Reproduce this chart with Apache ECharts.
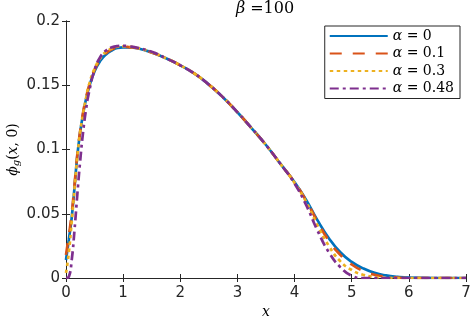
<!DOCTYPE html>
<html><head><meta charset="utf-8">
<script src="https://cdn.jsdelivr.net/npm/echarts@6/dist/echarts.min.js"></script>
<style>html,body{margin:0;padding:0;background:#fff}#c{width:471px;height:318px}</style>
</head><body><div id="c"></div>
<script>
const xs = [0,0.05,0.1,0.15,0.2,0.25,0.3,0.35,0.4,0.5,0.6,0.7,0.8,0.9,1.0,1.1,1.25,1.5,1.75,2.0,2.25,2.5,2.75,3.0,3.25,3.5,3.75,4.0,4.2,4.4,4.6,4.8,5.0,5.2,5.4,5.6,5.8,6.0,6.5,7.0];
const alpha0   = [0.014,0.03,0.047,0.071,0.096,0.114,0.128,0.139,0.148,0.161,0.169,0.174,0.177,0.179,0.1795,0.1795,0.1788,0.1755,0.171,0.1655,0.159,0.1505,0.1405,0.129,0.1165,0.1035,0.089,0.0745,0.061,0.045,0.031,0.020,0.0125,0.0075,0.004,0.002,0.0009,0.0003,0,0];
const alpha01  = [0.018,0.033,0.05,0.073,0.097,0.115,0.129,0.140,0.149,0.162,0.170,0.175,0.178,0.1795,0.18,0.1797,0.1788,0.1755,0.171,0.1655,0.159,0.1505,0.1405,0.129,0.1165,0.1035,0.089,0.0745,0.0605,0.044,0.029,0.018,0.0105,0.0055,0.0025,0.001,0.0003,0,0,0];
const alpha03  = [0.004,0.02,0.044,0.07,0.095,0.114,0.128,0.140,0.150,0.163,0.171,0.176,0.1785,0.18,0.1802,0.18,0.179,0.1757,0.171,0.1655,0.159,0.1505,0.1405,0.129,0.1165,0.1035,0.089,0.074,0.0595,0.041,0.025,0.013,0.0062,0.0025,0.0008,0.0002,0,0,0,0];
const alpha048 = [0,0.001,0.014,0.038,0.066,0.092,0.114,0.131,0.144,0.162,0.172,0.177,0.1795,0.1805,0.1807,0.1803,0.1792,0.176,0.171,0.1655,0.159,0.1505,0.1405,0.129,0.1165,0.1035,0.089,0.0735,0.057,0.037,0.020,0.0085,0.0018,0,0,0,0,0,0,0];
const seriesNames = ['α = 0','α = 0.1','α = 0.3','α = 0.48'];
const xTicks = [0,1,2,3,4,5,6,7];
const yTickLabels = ['0','0.05','0.1','0.15','0.2'];

const colors = ['#0072BD','#D95319','#EDB120','#7E2F8E'];
const dashes = ['solid',[12,11],[3.5,3.5],[9,4,3,4]];
const datas = [alpha0,alpha01,alpha03,alpha048];

const chart = echarts.init(document.getElementById('c'));
const font = 'DejaVu Sans';
const axisCommon = {
  axisLine:{show:true,lineStyle:{color:'#262626',width:1}},
  axisTick:{show:true,inside:true,length:4,lineStyle:{color:'#262626'}},
  splitLine:{show:false}
};
chart.setOption({
  animation:false,
  title:{text:'{i|β} {n|=100}',left:265,top:0,padding:0,textAlign:'center',
    textStyle:{fontWeight:'normal',rich:{i:{fontFamily:'DejaVu Serif',fontStyle:'italic',fontWeight:'normal',fontSize:16,color:'#000'},
      n:{fontFamily:'DejaVu Serif',fontWeight:'normal',fontSize:16,color:'#000'}}}},
  grid:{left:66,right:5,top:21,bottom:40,containLabel:false,outerBoundsMode:'none'},
  legend:{
    right:11,top:26,orient:'vertical',
    itemWidth:58,itemHeight:14,itemGap:3.5,
    padding:[3,6,3,4],
    itemStyle:{opacity:0},
    borderColor:'#262626',borderWidth:1,backgroundColor:'#fff',
    formatter:n=>'{i|α}{n|'+n.slice(1)+'}',
    textStyle:{fontFamily:'DejaVu Serif',fontSize:14,color:'#000',
      rich:{i:{fontFamily:'DejaVu Serif',fontStyle:'italic',fontSize:14,color:'#000'},
        n:{fontFamily:'DejaVu Serif',fontSize:14,color:'#000'}}},
    data:seriesNames
  },
  xAxis:[
    Object.assign({type:'value',min:0,max:7,interval:1,position:'bottom',
      name:'x',nameLocation:'middle',nameGap:27,nameMoveOverlap:false,
      nameTextStyle:{fontFamily:'DejaVu Serif',fontStyle:'italic',fontSize:14,color:'#000'},
      axisLabel:{fontFamily:font,fontSize:15,color:'#262626',margin:8,formatter:v=>xTicks.includes(v)?String(v):''}},axisCommon),
    Object.assign({type:'value',min:0,max:7,interval:1,position:'top',axisLabel:{show:false}},axisCommon)
  ],
  yAxis:[
    Object.assign({type:'value',min:0,max:0.2,interval:0.05,position:'left',
      name:'{i|ϕ}{s|g}{n|(}{i|x}{n|, 0)}',nameLocation:'middle',nameGap:45,nameMoveOverlap:false,
      nameTextStyle:{rich:{i:{fontFamily:'DejaVu Serif',fontStyle:'italic',fontSize:14,color:'#000'},
        s:{fontFamily:'DejaVu Serif',fontStyle:'italic',fontSize:10,color:'#000',padding:[6,0,0,0]},
        n:{fontFamily:'DejaVu Serif',fontSize:14,color:'#000'}}},
      axisLabel:{fontFamily:font,fontSize:15,color:'#262626',margin:6,formatter:(v)=>yTickLabels[Math.round(v/0.05)]}},axisCommon),
    Object.assign({type:'value',min:0,max:0.2,interval:0.05,position:'right',axisLabel:{show:false}},axisCommon)
  ],
  series: datas.map((d,i)=>({
    name:seriesNames[i],type:'line',smooth:0.5,symbol:'none',
    data:xs.map((x,j)=>[x,d[j]]),
    lineStyle:{color:colors[i],width:2.7,type:dashes[i]},
    itemStyle:{color:colors[i]},
    z:2+i
  }))
});
</script></body></html>
